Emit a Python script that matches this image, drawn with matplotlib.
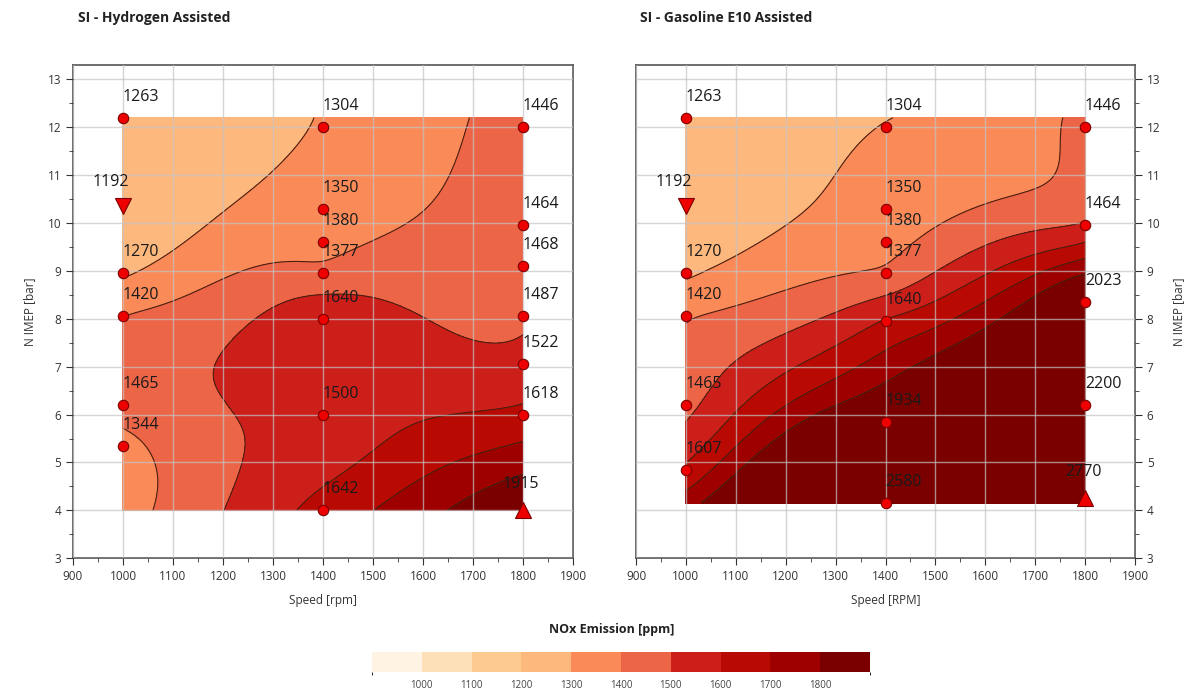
import numpy as np
import matplotlib
matplotlib.use("Agg")
import matplotlib.pyplot as plt
from matplotlib.colors import ListedColormap, BoundaryNorm

plt.rcParams['font.family'] = ['Open Sans', 'DejaVu Sans']

# measured operating points: speed [rpm], N IMEP [bar], NOx [ppm]
h2_speed = [1000, 1000, 1000, 1000, 1000, 1000,
            1400, 1400, 1400, 1400, 1400, 1400, 1400,
            1800, 1800, 1800, 1800, 1800, 1800, 1800]
h2_imep = [12.2, 10.35, 8.95, 8.05, 6.2, 5.35,
           12.0, 10.3, 9.6, 8.95, 8.0, 6.0, 4.0,
           12.0, 9.95, 9.1, 8.05, 7.05, 6.0, 4.0]
h2_nox = [1263, 1192, 1270, 1420, 1465, 1344,
          1304, 1350, 1380, 1377, 1640, 1500, 1642,
          1446, 1464, 1468, 1487, 1522, 1618, 1915]

e10_speed = [1000, 1000, 1000, 1000, 1000, 1000,
             1400, 1400, 1400, 1400, 1400, 1400, 1400,
             1800, 1800, 1800, 1800, 1800]
e10_imep = [12.2, 10.35, 8.95, 8.05, 6.2, 4.85,
            12.0, 10.3, 9.6, 8.95, 7.95, 5.85, 4.15,
            12.0, 9.95, 8.35, 6.2, 4.25]
e10_nox = [1263, 1192, 1270, 1420, 1465, 1607,
           1304, 1350, 1380, 1377, 1640, 1934, 2580,
           1446, 1464, 2023, 2200, 2770]

tick_levels = [1000, 1100, 1200, 1300, 1400, 1500, 1600, 1700, 1800]
colors = ['#fff3e3', '#fee0b8', '#fdcb90', '#fdb87e', '#fa8b58',
          '#ed6547', '#cd1f1a', '#b80a02', '#9e0000', '#7a0000']
levels = [0] + tick_levels + [10000]
cmap = ListedColormap(colors)
norm = BoundaryNorm(levels, cmap.N)

SMOOTH = 0.015


def tps_grid(xs, ys, zs, gx, gy):
    # smoothing thin plate spline fitted to the measured points
    xs = (np.asarray(xs, float) - 1000) / 800
    ys = (np.asarray(ys, float) - 4) / 8.2
    zs = np.asarray(zs, float)
    n = len(xs)

    def phi(r):
        with np.errstate(divide='ignore', invalid='ignore'):
            v = r ** 2 * np.log(r)
        return np.nan_to_num(v)

    r = np.hypot(xs[:, None] - xs[None, :], ys[:, None] - ys[None, :])
    P = np.column_stack([np.ones(n), xs, ys])
    A = np.zeros((n + 3, n + 3))
    A[:n, :n] = phi(r) + SMOOTH * np.eye(n)
    A[:n, n:] = P
    A[n:, :n] = P.T
    sol = np.linalg.solve(A, np.concatenate([zs, np.zeros(3)]))
    w, c = sol[:n], sol[n:]
    qx = (gx.ravel() - 1000) / 800
    qy = (gy.ravel() - 4) / 8.2
    rq = np.hypot(qx[:, None] - xs[None, :], qy[:, None] - ys[None, :])
    z = phi(rq) @ w + c[0] + c[1] * qx + c[2] * qy
    return z.reshape(gx.shape)


def draw_panel(ax, speed, imep, nox, special, right=False):
    gx, gy = np.meshgrid(np.linspace(min(speed), max(speed), 200),
                         np.linspace(min(imep), max(imep), 200))
    gz = tps_grid(speed, imep, nox, gx, gy)
    cs = ax.contourf(gx, gy, gz, levels=levels, cmap=cmap, norm=norm, zorder=1)
    ax.contour(gx, gy, gz, levels=tick_levels, colors='#4a2010',
               linewidths=0.8, zorder=2)

    for x, y, v in zip(speed, imep, nox):
        if v in special:
            mk, dx, dy = special[v]
            ax.plot(x, y, marker=mk, ms=11, color='#ee0000', mec='#7a0000',
                    mew=0.8, zorder=4, clip_on=False)
        else:
            dx, dy = 18, 13
            ax.plot(x, y, marker='o', ms=7.5, color='#ee0000', mec='#7a0000',
                    mew=0.8, zorder=4, clip_on=False)
        ax.annotate(str(v), (x, y), xytext=(dx, dy), textcoords='offset pixels',
                    ha='center', va='bottom', fontsize=11.5, color='#1a1a1a',
                    zorder=5)

    ax.set_xlim(900, 1900)
    ax.set_ylim(3, 13.3)
    ax.set_xticks(range(900, 2000, 100))
    ax.set_xticks(range(950, 1900, 100), minor=True)
    ax.set_yticks(range(3, 14))
    ax.set_yticks(np.arange(3.5, 13.5, 1.0), minor=True)
    ax.grid(True, which='major', color='#c4c4c4', lw=1.0, alpha=0.7)
    ax.set_axisbelow(False)
    ax.tick_params(which='both', labelsize=8.5, colors='#333333', direction='out')
    ax.tick_params(which='major', length=5)
    ax.tick_params(which='minor', length=3)
    for s in ax.spines.values():
        s.set_color('#555555')
        s.set_linewidth(1.2)
    if right:
        ax.yaxis.tick_right()
        ax.yaxis.set_label_position('right')
    ax.set_ylabel('N IMEP [bar]', fontsize=8.5, color='#333333', labelpad=8)
    return cs


fig = plt.figure(figsize=(11.98, 6.96), dpi=100)
ax1 = fig.add_axes([0.0609, 0.198, 0.4174, 0.7085])
ax2 = fig.add_axes([0.5309, 0.198, 0.4165, 0.7085])

cs = draw_panel(ax1, h2_speed, h2_imep, h2_nox,
                {1192: ('v', -12, 16), 1915: ('^', -2, 18)})
draw_panel(ax2, e10_speed, e10_imep, e10_nox,
           {1192: ('v', -12, 16), 2770: ('^', -2, 18)}, right=True)
ax1.set_xlabel('Speed [rpm]', fontsize=8.5, color='#333333', labelpad=8)
ax2.set_xlabel('Speed [RPM]', fontsize=8.5, color='#333333', labelpad=8)

fig.text(78 / 1198, 1 - 18 / 696, 'SI - Hydrogen Assisted', fontsize=10,
         fontweight='bold', va='center', ha='left', color='#222222')
fig.text(640 / 1198, 1 - 18 / 696, 'SI - Gasoline E10 Assisted', fontsize=10,
         fontweight='bold', va='center', ha='left', color='#222222')
fig.text(612 / 1198, 1 - 630 / 696, 'NOx Emission [ppm]', fontsize=9,
         fontweight='bold', va='center', ha='center', color='#222222')

cax = fig.add_axes([0.3105, 0.0345, 0.4157, 0.0287])
cb = fig.colorbar(cs, cax=cax, orientation='horizontal', ticks=tick_levels)
cb.outline.set_visible(False)
cb.ax.tick_params(length=0, labelsize=7, colors='#444444', pad=6)

fig.savefig('out.png', dpi=100)
